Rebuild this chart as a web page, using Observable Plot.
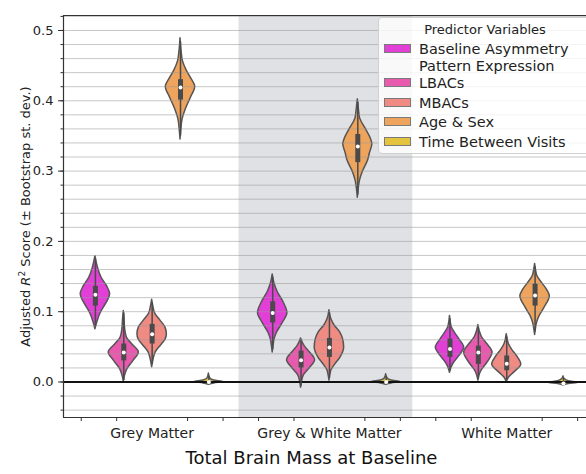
<!DOCTYPE html>
<html><head><meta charset="utf-8">
<script src="https://cdn.jsdelivr.net/npm/d3@7"></script>
<script src="https://cdn.jsdelivr.net/npm/@observablehq/plot@0.6"></script>
<style>
html,body{margin:0;padding:0;overflow:hidden;background:#fff;}
#wrap{position:relative;width:586px;height:474px;font-family:"DejaVu Sans",sans-serif;color:#222;}
#legend{position:absolute;left:378px;top:17px;width:214px;height:137px;background:rgba(255,255,255,0.8);border:1px solid #d0d0d0;border-radius:4px;box-sizing:border-box;}
#legend .t{position:absolute;left:0;width:212px;text-align:center;font-size:13px;line-height:13px;white-space:nowrap;}
#legend .sw{position:absolute;left:5px;width:27px;height:9px;border:1px solid #7a7a7a;box-sizing:border-box;}
#legend .lb{position:absolute;left:40px;font-size:14.5px;line-height:14.5px;white-space:nowrap;}
</style></head><body><div id="wrap"></div>
<script>
const groups = ["Grey Matter", "Grey & White Matter", "White Matter"];
const predictors = ["Baseline Asymmetry Pattern Expression", "LBACs", "MBACs", "Age & Sex", "Time Between Visits"];
const legendLabels = [["Baseline Asymmetry", "Pattern Expression"], ["LBACs"], ["MBACs"], ["Age & Sex"], ["Time Between Visits"]];
const colors = ["#e13fd6", "#e85aad", "#f08b84", "#eea45d", "#e4c33f"];
const yMajor = [0, 0.1, 0.2, 0.3, 0.4, 0.5];
const yMinor = [-0.04,-0.02,0,0.02,0.04,0.06,0.08,0.1,0.12,0.14,0.16,0.18,0.2,0.22,0.24,0.26,0.28,0.3,0.32,0.34,0.36,0.38,0.4,0.42,0.44,0.46,0.48,0.5,0.52];
const yTitle = "Adjusted R2 Score (± Bootstrap st. dev.)";
const xTitle = "Total Brain Mass at Baseline";

// violin density profiles: [score, half-width of density]
const gmViolins = [
  [[0.075,0],[0.086,0.012],[0.097,0.028],[0.107,0.05],[0.117,0.073],[0.125,0.083],[0.136,0.066],[0.148,0.035],[0.163,0.014],[0.179,0]],
  [[0,0],[0.008,0.006],[0.018,0.02],[0.03,0.055],[0.042,0.085],[0.053,0.05],[0.063,0.018],[0.075,0.008],[0.09,0.004],[0.101,0]],
  [[0.021,0],[0.032,0.008],[0.042,0.02],[0.052,0.05],[0.06,0.075],[0.068,0.083],[0.078,0.074],[0.088,0.045],[0.097,0.018],[0.107,0.007],[0.117,0]],
  [[0.345,0],[0.36,0.005],[0.374,0.012],[0.388,0.03],[0.404,0.058],[0.42,0.083],[0.432,0.06],[0.443,0.035],[0.456,0.014],[0.47,0.006],[0.489,0]],
  [[-0.004,0],[-0.002,0.03],[0,0.083],[0.002,0.03],[0.005,0.008],[0.012,0]]
];
const gwViolins = [
  [[0.042,0],[0.052,0.005],[0.061,0.011],[0.07,0.024],[0.084,0.057],[0.098,0.083],[0.113,0.062],[0.128,0.028],[0.14,0.01],[0.153,0]],
  [[-0.008,0],[0,0.005],[0.009,0.015],[0.02,0.05],[0.031,0.079],[0.042,0.05],[0.051,0.02],[0.062,0]],
  [[0.002,0],[0.01,0.005],[0.017,0.012],[0.024,0.03],[0.035,0.063],[0.049,0.083],[0.06,0.078],[0.07,0.062],[0.08,0.03],[0.09,0.01],[0.102,0]],
  [[0.262,0],[0.275,0.005],[0.286,0.012],[0.3,0.03],[0.315,0.058],[0.325,0.068],[0.338,0.082],[0.347,0.072],[0.36,0.045],[0.375,0.013],[0.388,0.006],[0.402,0]],
  [[-0.004,0],[-0.002,0.03],[0,0.083],[0.002,0.03],[0.005,0.008],[0.011,0]]
];
const wmViolins = [
  [[0.013,0],[0.02,0.008],[0.027,0.022],[0.036,0.05],[0.049,0.08],[0.06,0.055],[0.07,0.028],[0.078,0.01],[0.094,0]],
  [[0.002,0],[0.009,0.006],[0.016,0.018],[0.026,0.047],[0.042,0.08],[0.054,0.05],[0.064,0.02],[0.072,0.008],[0.081,0]],
  [[0,0],[0.006,0.012],[0.013,0.04],[0.025,0.082],[0.036,0.06],[0.046,0.03],[0.054,0.012],[0.068,0]],
  [[0.067,0],[0.076,0.005],[0.084,0.011],[0.093,0.024],[0.105,0.052],[0.122,0.083],[0.13,0.07],[0.14,0.042],[0.15,0.014],[0.158,0.006],[0.168,0]],
  [[-0.005,0],[-0.003,0.03],[-0.001,0.083],[0.001,0.03],[0.004,0.008],[0.008,0]]
];
// inner box: [whisker low, q1, median, q3, whisker high]
const gmStats = [[0.079,0.108,0.124,0.136,0.175],[0.002,0.030,0.042,0.054,0.098],[0.025,0.054,0.068,0.082,0.113],[0.35,0.401,0.419,0.430,0.484],[-0.002,-0.001,0,0.001,0.008]];
const gwStats = [[0.046,0.084,0.098,0.114,0.149],[-0.006,0.020,0.031,0.044,0.058],[0.005,0.035,0.049,0.062,0.098],[0.266,0.312,0.335,0.352,0.398],[-0.002,-0.001,0,0.001,0.007]];
const wmStats = [[0.016,0.035,0.047,0.061,0.09],[0.004,0.025,0.042,0.051,0.077],[0.002,0.016,0.026,0.037,0.064],[0.071,0.108,0.123,0.139,0.164],[-0.003,-0.002,-0.002,-0.001,0.005]];
const shadedGroup = [{a: 0.49, b: 1.47}];

const shapes = [], stats = [];
[gmViolins, gwViolins, wmViolins].forEach((grp, g) => grp.forEach((prof, p) => prof.forEach(([v, w]) =>
  shapes.push({id: g * 5 + p, pred: predictors[p], v, w, c: g + (p - 2) * 0.16}))));
[gmStats, gwStats, wmStats].forEach((grp, g) => grp.forEach(([lo, q1, med, q3, hi], p) =>
  stats.push({c: g + (p - 2) * 0.16, lo, q1, med, q3, hi})));
const xMinor = [];
groups.forEach((_, g) => [-0.4, -0.2, 0.2, 0.4].forEach(o => xMinor.push(g + o)));

const yDom = [-0.0505, 0.5213];
const plot = Plot.plot({
  width: 586, height: 474,
  marginLeft: 63, marginRight: 0, marginTop: 15, marginBottom: 57,
  style: {fontFamily: "DejaVu Sans, sans-serif", fontSize: "13px", color: "#222", background: "transparent", overflow: "visible"},
  x: {domain: [-0.5, 2.45], axis: null},
  y: {domain: yDom, axis: null},
  color: {type: "ordinal", domain: predictors, range: colors},
  marks: [
    Plot.rect(shadedGroup, {x1: "a", x2: "b", fill: "#e0e1e4"}),
    Plot.areaX(shapes, {y: "v", x1: d => d.c - d.w, x2: d => d.c + d.w, z: "id", fill: "pred", stroke: "#555", strokeWidth: 1.5, curve: "monotone-y"}),
    Plot.ruleY(yMinor, {stroke: "#999", strokeOpacity: 0.55, strokeWidth: 1}),
    Plot.ruleY([0], {stroke: "#111", strokeWidth: 2}),
    Plot.ruleX(stats, {x: "c", y1: "lo", y2: "hi", stroke: "#4a4a4a", strokeWidth: 1.5}),
    Plot.ruleX(stats, {x: "c", y1: "q1", y2: "q3", stroke: "#4a4a4a", strokeWidth: 5}),
    Plot.dot(stats, {x: "c", y: "med", r: 2, fill: "white"}),
    Plot.ruleX([-0.5], {stroke: "#333", strokeWidth: 1.2}),
    Plot.ruleY([yDom[0]], {stroke: "#333", strokeWidth: 1.2}),
    Plot.ruleY([yDom[1]], {stroke: "#333", strokeWidth: 1.2}),
    Plot.axisY(yMajor, {tickSize: 5, tickPadding: 5, tickFormat: d => d.toFixed(1), fontSize: 13, stroke: "#333", fill: "#222"}),
    Plot.axisY(yMinor, {tickSize: 2.5, tickFormat: () => "", stroke: "#333"}),
    Plot.axisX(xMinor, {tickSize: 4, tickFormat: () => "", stroke: "#333"}),
    Plot.text(groups, {x: (d, i) => i, frameAnchor: "bottom", lineAnchor: "middle", dy: 16, fontSize: 14, fill: "#222"}),
    Plot.text([xTitle], {frameAnchor: "bottom", lineAnchor: "middle", textAnchor: "middle", dy: 41, dx: -13.5, fontSize: 18, fill: "#111"}),
    Plot.text([yTitle], {frameAnchor: "left", textAnchor: "middle", lineAnchor: "middle", dx: -38, rotate: -90, fontSize: 13, fill: "#222"})
  ]
});

const wrap = document.getElementById("wrap");
wrap.appendChild(plot);
plot.querySelectorAll("text").forEach(t => {
  if (t.textContent === yTitle) {
    t.innerHTML = 'Adjusted <tspan font-style="italic">R</tspan><tspan dy="-5" font-size="9">2</tspan><tspan dy="5"> Score (± Bootstrap st. dev.)</tspan>';
  }
});

// legend
const lg = document.createElement("div");
lg.id = "legend";
const title = document.createElement("div");
title.className = "t"; title.style.top = "5px"; title.textContent = "Predictor Variables";
lg.appendChild(title);
predictors.forEach((p, i) => {
  const cy = i === 0 ? 31 : 65.5 + (i - 1) * 19.5;
  const sw = document.createElement("div");
  sw.className = "sw"; sw.style.top = (cy - 5.5) + "px"; sw.style.background = colors[i];
  lg.appendChild(sw);
  legendLabels[i].forEach((line, j) => {
    const lb = document.createElement("div");
    lb.className = "lb"; lb.style.top = (cy - 7.3 + j * 17.3) + "px"; lb.textContent = line;
    lg.appendChild(lb);
  });
});
wrap.appendChild(lg);
</script></body></html>
